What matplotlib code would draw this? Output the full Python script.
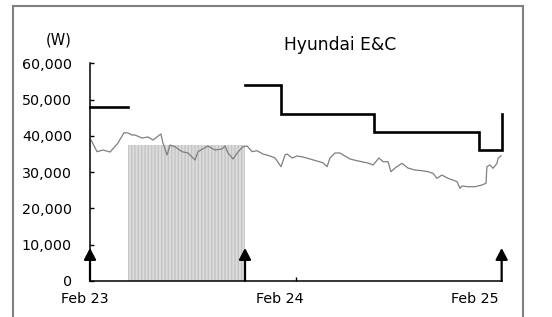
import numpy as np
import matplotlib
matplotlib.use("Agg")
import matplotlib.pyplot as plt
from matplotlib.patches import Rectangle
from matplotlib.transforms import blended_transform_factory

# ---- data (x in months since Feb 23) ----
price_m = [0.06, 0.41, 0.76, 1.17, 1.63, 1.98, 2.21, 2.45, 2.62, 3.03, 3.38, 3.67, 3.90, 4.13,
           4.25, 4.49, 4.66, 4.95, 5.36, 5.71, 6.12, 6.29, 6.87, 7.28, 7.69, 7.86, 8.04, 8.33,
           8.62, 8.91, 9.15, 9.44, 9.73, 10.08, 10.49, 10.78, 11.13, 11.36, 11.48, 11.77, 12.06,
           12.41, 12.82, 13.22, 13.57, 13.81, 13.98, 14.27, 14.56, 14.85, 15.15, 15.55, 16.19,
           16.49, 16.83, 17.07, 17.36, 17.53, 17.77, 18.17, 18.52, 18.93, 19.34, 19.69, 19.98,
           20.21, 20.50, 20.85, 21.14, 21.38, 21.55, 21.67, 22.02, 22.43, 22.83, 23.07, 23.12,
           23.30, 23.48, 23.71, 23.77, 23.94]
price_v = [38860, 35640, 36100, 35550, 38030, 40870, 40790, 40240, 40240, 39410, 39690, 38860,
           39690, 40520, 38030, 34730, 37480, 37010, 35640, 35280, 33350, 35640, 37210, 36100,
           36380, 37210, 35280, 33620, 35550, 37010, 37210, 35640, 35910, 35000, 34450, 33900,
           31500, 34730, 35000, 33900, 34450, 34170, 33620, 33070, 32600, 31500, 33900, 35280,
           35280, 34450, 33620, 33150, 32520, 31970, 33900, 32880, 32880, 30120, 31140, 32440,
           31140, 30590, 30400, 30120, 29680, 28300, 29210, 28300, 27840, 27370, 25550, 26180,
           25990, 25990, 26460, 26930, 31500, 31970, 31060, 32440, 33820, 34530]

target_m = [0, 2.21, 9.03, 11.13, 16.54, 22.66, 23.98]
target_v = [48000, np.nan, 54000, 46000, 41000, 36000, 46000]

shade_start, shade_end, shade_top = 2.21, 9.03, 37500
event_m = [0, 9.03, 23.98]
event_h = 9100

y_ticks = [0, 10000, 20000, 30000, 40000, 50000, 60000]
x_label_text = ["Feb 23", "Feb 24", "Feb 25"]
x_label_pos = [-0.32, 11.07, 22.43]
x_tick_marks = [12]

plt.rcParams['font.family'] = ['DejaVu Sans']

fig = plt.figure(figsize=(5.52, 3.17), dpi=100)
ax = fig.add_axes([90/552, 1-281/317, (502-90)/552, (281-63.3)/317])

# border
fig.patches.append(Rectangle((13/552, -0.05), (522.5-13)/552, 1-6/317+0.05,
                             transform=fig.transFigure, fill=False,
                             edgecolor='#808080', lw=1.5, zorder=0))

ax.fill_between([shade_start, shade_end], 0, shade_top, facecolor='#dcdcdc',
                edgecolor='#c4c4c4', hatch='|||||', lw=0, zorder=1)
ax.plot(price_m, price_v, color='#7f7f7f', lw=0.9, zorder=2)
ax.plot(target_m, target_v, color='black', lw=1.9, drawstyle='steps-post',
        solid_joinstyle='miter', zorder=3, clip_on=False)

for xm in event_m:
    ann = ax.annotate('', xy=(xm, event_h), xytext=(xm, 0),
                      arrowprops=dict(arrowstyle='-|>,head_length=0.38,head_width=0.2',
                                      mutation_scale=18, lw=1.6, color='black',
                                      shrinkA=0, shrinkB=0), zorder=4,
                      annotation_clip=False)
    ann.arrow_patch.set_clip_on(False)

ax.set_xlim(0, 24)
ax.set_ylim(0, 60000)
ax.spines['top'].set_visible(False)
ax.spines['right'].set_visible(False)
for s in ['left', 'bottom']:
    ax.spines[s].set_linewidth(1.1)

ax.set_yticks(y_ticks)
ax.set_yticklabels([f"{v:,}" for v in y_ticks])
ax.tick_params(axis='y', direction='in', length=3, width=1, pad=13, labelsize=10.3,
               colors='black')
ax.set_xticks(x_tick_marks)
ax.set_xticklabels([])
ax.tick_params(axis='x', direction='in', length=3, width=1)

trans = blended_transform_factory(ax.transData, ax.transAxes)
for pos, lab in zip(x_label_pos, x_label_text):
    ax.text(pos, -0.05, lab, transform=trans, ha='center', va='top', fontsize=10.3,
            clip_on=False)

fig.text(72/552, 1-40/317, "(W)", ha='right', va='center', fontsize=10.5)
fig.text(340/552, 1-45/317, "Hyundai E&C", ha='center', va='center', fontsize=12.3)

fig.savefig("out.png", dpi=100)
